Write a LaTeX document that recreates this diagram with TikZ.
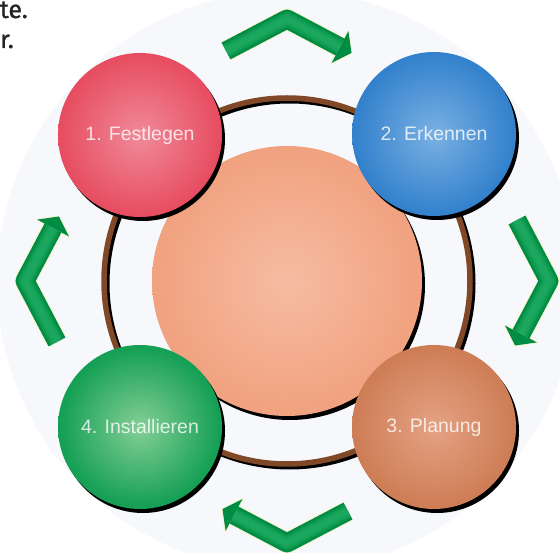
\documentclass[tikz,border=0pt]{standalone}
\usepackage{fontspec}
\setmainfont{Liberation Sans}
\newfontfamily\topfont[FakeBold=0.9]{Fira Sans}
\usetikzlibrary{shadows}
\definecolor{bgtint}{RGB}{247,248,251}
\definecolor{txtdark}{RGB}{35,35,35}
\definecolor{ringbrown}{RGB}{128,72,38}
\definecolor{arrowdark}{RGB}{0,140,66}
\definecolor{arrowlight}{RGB}{45,182,112}
\definecolor{arrowglow}{RGB}{248,244,205}
\definecolor{redIn}{RGB}{240,138,152}
\definecolor{redMid}{RGB}{231,78,98}
\definecolor{redOut}{RGB}{224,50,72}
\definecolor{blueIn}{RGB}{122,176,226}
\definecolor{blueMid}{RGB}{52,130,205}
\definecolor{blueOut}{RGB}{26,104,186}
\definecolor{greenIn}{RGB}{132,206,150}
\definecolor{greenMid}{RGB}{22,160,86}
\definecolor{greenOut}{RGB}{0,140,64}
\definecolor{brownIn}{RGB}{228,162,132}
\definecolor{brownMid}{RGB}{206,126,86}
\definecolor{brownOut}{RGB}{186,100,60}
\definecolor{peachIn}{RGB}{246,188,162}
\definecolor{peachMid}{RGB}{241,162,128}
\definecolor{peachOut}{RGB}{236,146,110}
\pgfdeclareradialshading{redball}{\pgfpoint{0bp}{0bp}}{color(0bp)=(redIn); color(24bp)=(redMid); color(50bp)=(redOut)}
\pgfdeclareradialshading{blueball}{\pgfpoint{0bp}{0bp}}{color(0bp)=(blueIn); color(24bp)=(blueMid); color(50bp)=(blueOut)}
\pgfdeclareradialshading{greenball}{\pgfpoint{0bp}{0bp}}{color(0bp)=(greenIn); color(24bp)=(greenMid); color(50bp)=(greenOut)}
\pgfdeclareradialshading{brownball}{\pgfpoint{0bp}{0bp}}{color(0bp)=(brownIn); color(24bp)=(brownMid); color(50bp)=(brownOut)}
\pgfdeclareradialshading{peachball}{\pgfpoint{0bp}{0bp}}{color(0bp)=(peachIn); color(24bp)=(peachMid); color(50bp)=(peachOut)}
\tikzset{
  blackshadow/.style={drop shadow={shadow xshift=3pt,shadow yshift=-4pt,fill=black,opacity=1}},
  ball/.style={circle,minimum size=164pt,inner sep=0pt,blackshadow,shade,
    font=\fontsize{19.5}{22}\selectfont,text=white,text opacity=0.8},
  toptext/.style={anchor=base east,inner sep=0pt,text=txtdark,font=\topfont\fontsize{25}{30}\selectfont},
  cyclearrow/.pic={
    \draw[line width=21pt,arrowglow,line join=round] (-61,-230) -- (0,-262) -- (53,-234);
    \draw[line width=2pt,arrowglow,line join=round] (44.6,-218.1) -- (64.5,-228) -- (61.4,-249.9) -- cycle;
    \draw[line width=19pt,arrowdark,line join=round] (-61,-230) -- (0,-262) -- (53,-234);
    \fill[arrowdark] (44.6,-218.1) -- (64.5,-228) -- (61.4,-249.9) -- cycle;
    \foreach \w in {14,10,6}
      \draw[line width=\w pt,arrowlight,opacity=0.3,line join=round] (-61,-230) -- (0,-262) -- (53,-234);
  }
}
\begin{document}
\begin{tikzpicture}[x=1pt,y=-1pt]
\useasboundingbox (0,0) rectangle (560,553);
\fill[white] (0,0) rectangle (560,553);
\coordinate (c) at (287,281);
\fill[bgtint] (c) circle[radius=290pt];
% text fragments
\node[toptext] (t1) at (28,18) {te.};
\node[toptext] (t2) at (14,48) {r.};
% arrows
\pic at (c) {cyclearrow};
\pic[rotate=-90] at (c) {cyclearrow};
\pic[rotate=180] at (c) {cyclearrow};
\pic[rotate=90] at (c) {cyclearrow};
% ring
\draw[black,line width=6pt] ([shift={(2.5,2.5)}]c) circle[radius=183pt];
\draw[ringbrown,line width=5.5pt] (c) circle[radius=183pt];
% centre
\node[circle,minimum size=270pt,inner sep=0pt,shade,shading=peachball,blackshadow] (core) at (c) {};
% stages
\node[ball,shading=redball] (s1) at (140,135) {1. Festlegen};
\node[ball,shading=blueball] (s2) at (434,134) {2. Erkennen};
\node[ball,shading=brownball] (s3) at (434,427) {3. Planung};
\node[ball,shading=greenball] (s4) at (140,427) {4. Installieren};
\end{tikzpicture}
\end{document}
